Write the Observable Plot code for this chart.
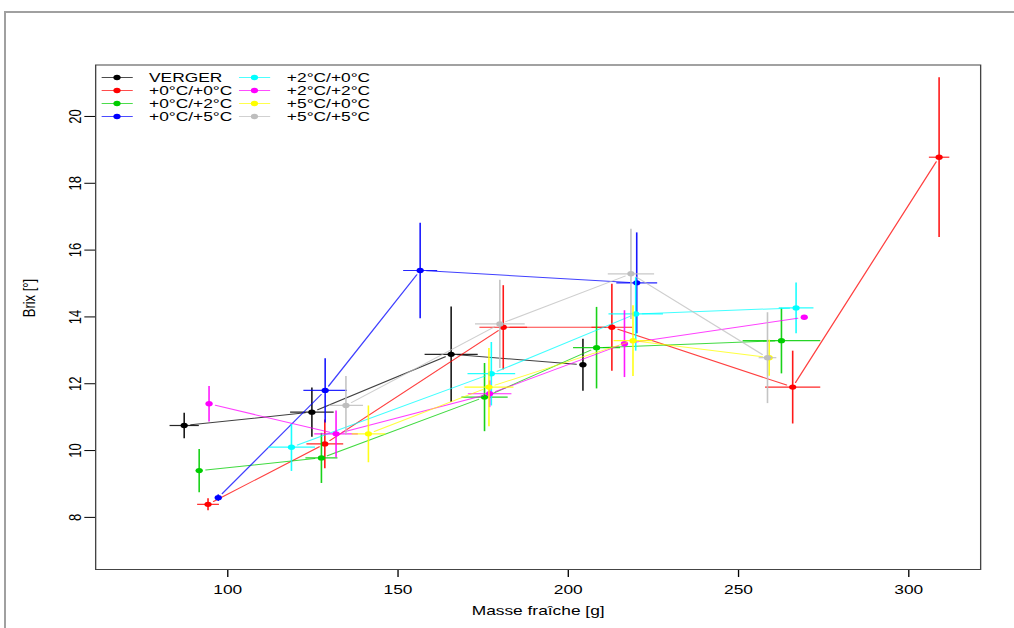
<!DOCTYPE html>
<html><head><meta charset="utf-8">
<script src="https://cdn.jsdelivr.net/npm/d3@7"></script>
<script src="https://cdn.jsdelivr.net/npm/@observablehq/plot@0.6"></script>
<style>
html,body{margin:0;padding:0;background:#fff;overflow:hidden;width:1014px;height:628px;}
#outer{position:absolute;left:4px;top:11px;width:1100px;height:700px;border-left:2px solid #a0a0a0;border-top:2px solid #a0a0a0;box-sizing:border-box;}
#wrap{position:absolute;left:0;top:0;width:760px;height:628px;transform:scaleX(1.33421);transform-origin:0 0;font-family:"Liberation Sans",Arial,sans-serif;}
#chart svg{display:block;}
.leg{position:absolute;font-size:13px;line-height:13px;white-space:nowrap;color:#000;}
.key{position:absolute;}
</style></head><body>
<div id="outer"></div>
<div id="wrap"><div id="chart"></div><div id="legend"></div></div>
<script>
// Series (treatments) and their colours (R default palette)
const series = ["VERGER","+0°C/+0°C","+0°C/+2°C","+0°C/+5°C","+2°C/+0°C","+2°C/+2°C","+5°C/+0°C","+5°C/+5°C"];
const colors = ["#000000","#FF0000","#00CD00","#0000FF","#00FFFF","#FF00FF","#FFFF00","#BEBEBE"];
// Mean fresh mass [g] per series
const mass = [
  [87.2, 124.7, 165.6, 204.3],
  [94.2, 128.5, 180.9, 212.8, 265.9, 308.9],
  [91.6, 127.5, 175.4, 208.3, 262.6],
  [97.2, 128.6, 156.5, 220.1],
  [118.7, 177.4, 219.8, 266.9],
  [94.5, 131.8, 176.9, 216.5, 269.3],
  [141.3, 176.7, 219.0, 259.0],
  [134.7, 179.9, 218.4, 258.5]
];
// Mean Brix [°] per series
const brix = [
  [10.75, 11.15, 12.88, 12.57],
  [8.39, 10.2, 13.69, 13.69, 11.9, 18.78],
  [9.40, 9.78, 11.6, 13.08, 13.29],
  [8.59, 11.8, 15.39, 15.02],
  [10.1, 12.3, 14.09, 14.27],
  [11.4, 10.5, 11.7, 13.2, 13.99],
  [10.5, 11.9, 13.29, 12.78],
  [11.35, 13.79, 15.29, 12.78]
];
// Error (half-width) on mass
const massErr = [
  [4.3, 6.4, 7.8, 1],
  [3.2, 5.4, 7, 6, 8.1, 3],
  [1, 4.7, 6.8, 6.9, 11.4],
  [1, 6.4, 5, 6],
  [6.9, 7, 8, 5.1],
  [1, 6.4, 6.4, 1, 0],
  [4.9, 7.2, 5.7, 1],
  [5, 7.3, 6.8, 2.6]
];
// Error (half-width) on Brix
const brixErr = [
  [0.38, 0.74, 1.43, 0.78],
  [0.18, 0.73, 1.26, 1.3, 1.09, 2.39],
  [0.65, 0.75, 1.02, 1.22, 0.98],
  [0.1, 0.96, 1.43, 1.51],
  [0.71, 0.95, 1.1, 0.76],
  [0.53, 0.7, 0.4, 1.0, 0],
  [0.85, 1.17, 1.06, 0.54],
  [0.88, 1.32, 1.35, 1.36]
];
const xTicks = [100, 150, 200, 250, 300];
const yTicks = [8, 10, 12, 14, 16, 18, 20];
const xLabel = "Masse fraîche [g]";
const yLabel = "Brix [°]";

const points = series.flatMap((s, i) => mass[i].map((m, j) => ({series: s, mass: m, brix: brix[i][j], em: massErr[i][j], eb: brixErr[i][j]})));
const segs = series.flatMap((s, i) => mass[i].slice(1).map((m, j) => ({series: s, x1: mass[i][j], y1: brix[i][j], x2: m, y2: brix[i][j + 1]})));

const seriesMarks = series.flatMap(s => {
  const P = points.filter(d => d.series === s);
  const S = segs.filter(d => d.series === s);
  return [
    Plot.arrow(S, {x1: "x1", y1: "y1", x2: "x2", y2: "y2", stroke: "series", strokeWidth: 1, strokeOpacity: 0.75, headLength: 0, insetStart: 5, insetEnd: 5}),
    Plot.link(P, {x1: d => d.mass - d.em, x2: d => d.mass + d.em, y1: "brix", y2: "brix", stroke: "series", strokeWidth: 1.2, strokeOpacity: 0.85}),
    Plot.link(P, {x1: "mass", x2: "mass", y1: d => d.brix - d.eb, y2: d => d.brix + d.eb, stroke: "series", strokeWidth: 1.2, strokeOpacity: 0.9}),
    Plot.dot(P, {x: "mass", y: "brix", fill: "series", r: 2.7})
  ];
});

const chart = Plot.plot({
  width: 760, height: 628,
  marginLeft: 71.2, marginRight: 25.5, marginTop: 64.5, marginBottom: 59,
  x: {domain: [61.2, 321.1]},
  y: {domain: [6.44, 21.54]},
  color: {domain: series, range: colors},
  style: {fontFamily: "Liberation Sans, Arial, sans-serif", fontSize: "13px", color: "#000", background: "transparent"},
  marks: [
    Plot.axisX({ticks: xTicks, tickSize: 8, tickPadding: 7, label: null, fontSize: 13}),
    Plot.axisY({ticks: yTicks, tickSize: 8, tickPadding: 3, tickRotate: -90, label: null, fontSize: 13}),
    Plot.text([xLabel], {frameAnchor: "bottom", dy: 45, text: d => d, fontSize: 13}),
    Plot.text([yLabel], {frameAnchor: "left", dx: -50, rotate: -90, text: d => d, fontSize: 13}),
    ...seriesMarks,
    Plot.frame({stroke: "#444"})
  ]
});
document.getElementById("chart").appendChild(chart);

// Legend (two columns of four)
const legend = document.getElementById("legend");
series.forEach((s, i) => {
  const col = Math.floor(i / 4), row = i % 4;
  const cy = 77.5 + 13.1 * row;
  const kx = col === 0 ? 75.7 : 178.6;
  const tx = col === 0 ? 111.7 : 215;
  const key = document.createElementNS("http://www.w3.org/2000/svg", "svg");
  key.setAttribute("width", 24); key.setAttribute("height", 13);
  key.setAttribute("class", "key");
  key.style.left = kx + "px"; key.style.top = (cy - 6.5) + "px";
  key.innerHTML = `<line x1="0" x2="23.5" y1="6.5" y2="6.5" stroke="${colors[i]}" stroke-opacity="0.7" stroke-width="1.2"/><circle cx="11.7" cy="6.5" r="2.7" fill="${colors[i]}"/>`;
  legend.appendChild(key);
  const t = document.createElement("div");
  t.className = "leg";
  t.style.left = tx + "px"; t.style.top = (cy - 6.5) + "px";
  t.textContent = s;
  legend.appendChild(t);
});
</script>
</body></html>
